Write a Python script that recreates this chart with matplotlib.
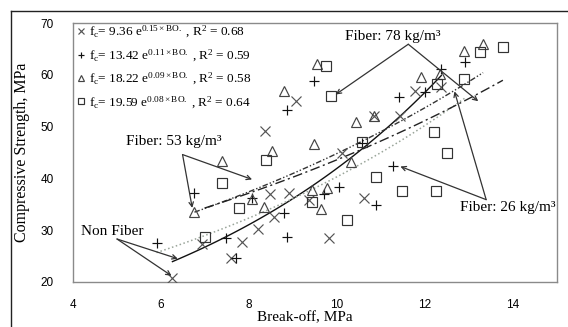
import numpy as np
import matplotlib
matplotlib.use("Agg")
import matplotlib.pyplot as plt
from matplotlib.lines import Line2D

plt.rcParams['font.family'] = ['Liberation Serif', 'DejaVu Serif']
plt.rcParams['mathtext.fontset'] = 'custom'
plt.rcParams['mathtext.rm'] = 'Liberation Serif'
plt.rcParams['mathtext.it'] = 'Liberation Serif:italic'

# break-off (x) and compressive strength (y) per fiber content
x_none = [6.26, 7.60, 7.85, 8.21, 8.57, 8.48, 8.91, 9.36, 6.94, 9.81, 10.61, 10.11,
          8.37, 9.07, 10.83, 11.44, 11.78, 12.37]
y_none = [20.8, 24.7, 27.8, 30.3, 32.6, 36.9, 37.2, 35.9, 27.4, 28.5, 36.3, 45.0,
          49.1, 54.9, 52.0, 52.0, 56.8, 57.6]

x_26 = [5.90, 6.76, 7.48, 7.71, 8.07, 8.80, 8.86, 8.86, 9.48, 9.70, 10.04, 10.56,
        10.88, 11.28, 11.40, 12.00, 12.37, 12.90]
y_26 = [27.6, 37.2, 28.5, 24.6, 36.3, 33.4, 28.7, 53.3, 58.8, 36.9, 38.4, 46.9,
        34.9, 42.3, 55.7, 56.6, 61.1, 62.4]

x_53 = [6.76, 7.39, 8.07, 8.34, 8.52, 8.80, 9.54, 10.43, 9.48, 9.43, 9.77, 9.63,
        10.31, 10.83, 11.92, 12.35, 12.89, 13.32]
y_53 = [33.6, 43.4, 36.1, 34.5, 45.2, 56.8, 62.0, 50.8, 46.6, 37.8, 38.2, 34.0,
        43.1, 52.0, 59.5, 60.1, 64.6, 65.9]

x_78 = [6.99, 7.39, 7.78, 8.39, 9.43, 10.22, 10.56, 9.75, 9.86, 12.28, 12.89, 13.25,
        13.77, 12.21, 12.51, 10.88, 11.47, 12.24]
y_78 = [28.7, 39.2, 34.3, 43.6, 35.5, 32.0, 47.1, 61.7, 55.9, 58.2, 59.1, 64.4,
        65.3, 48.9, 45.0, 40.3, 37.6, 37.6]

# exponential fits shown in the legend: fc = a * exp(b * BO)
fit_a = [9.36, 13.42, 18.22, 19.59]
fit_b = [0.15, 0.11, 0.09, 0.08]
fit_r2 = [0.68, 0.59, 0.58, 0.64]

series = [(x_none, y_none), (x_26, y_26), (x_53, y_53), (x_78, y_78)]
markers = ['x', '+', '^', 's']
mcolors = ['#555555', '#111111', '#444444', '#333333']
line_styles = ['-', ':', (0, (4, 1.5, 1, 1.5, 1, 1.5)), (0, (7, 2.5, 1.5, 2.5))]
line_colors = ['#111111', '#9aa59a', '#333333', '#222222']
line_widths = [1.0, 1.1, 1.0, 1.0]

fig = plt.figure(figsize=(5.68, 3.27), dpi=100)
ax = fig.add_axes([73 / 568, 1 - 282 / 327, 484 / 568, 259 / 327])

# outer frame of the figure
fig.add_artist(Line2D([11 / 568, 11 / 568], [0, 1 - 11 / 327], transform=fig.transFigure,
                      color='#222222', lw=1.0))
fig.add_artist(Line2D([11 / 568, 1], [1 - 11 / 327, 1 - 11 / 327], transform=fig.transFigure,
                      color='#222222', lw=1.0))

handles = []
for i, (xs, ys) in enumerate(series):
    xf = np.linspace(min(xs), max(xs), 100)
    ax.plot(xf, fit_a[i] * np.exp(fit_b[i] * xf), linestyle=line_styles[i],
            color=line_colors[i], lw=line_widths[i], zorder=2)
    h, = ax.plot(xs, ys, linestyle='none', marker=markers[i], ms=7.5 if i < 2 else 7,
                 mfc='none', mec=mcolors[i], mew=0.85, zorder=3)
    handles.append(h)

labels = []
for i in range(4):
    labels.append(r'f$_{\mathrm{c}}$= %.2f e$^{\mathrm{%.2f\times BO.}}$ , R$^{\mathrm{2}}$ = %.2f'
                  % (fit_a[i], fit_b[i], fit_r2[i]))
leg = ax.legend(handles, labels, loc='upper left', frameon=False, fontsize=9.5,
                markerscale=0.6, handlelength=0.6, handletextpad=0.3, labelspacing=0.55,
                borderaxespad=0.0, borderpad=0.3, bbox_to_anchor=(0.0, 1.01))

# annotations
arrow = dict(arrowstyle='->', color='#333333', lw=0.9, shrinkA=0, shrinkB=0,
             mutation_scale=8)
ax.text(11.27, 67.3, 'Fiber: 78 kg/m³', ha='center', va='center', fontsize=11)
for tip in [(9.97, 56.2), (13.21, 54.9)]:
    ax.annotate('', xy=tip, xytext=(11.62, 65.9), arrowprops=arrow)

ax.text(6.30, 47.2, 'Fiber: 53 kg/m³', ha='center', va='center', fontsize=11)
for tip in [(6.71, 34.3), (8.07, 39.8)]:
    ax.annotate('', xy=tip, xytext=(6.49, 44.6), arrowprops=arrow)

ax.text(4.90, 29.7, 'Non Fiber', ha='center', va='center', fontsize=11)
for tip in [(6.38, 24.5), (6.24, 21.2)]:
    ax.annotate('', xy=tip, xytext=(5.0, 28.3), arrowprops=arrow)

ax.text(13.88, 34.4, 'Fiber: 26 kg/m³', ha='center', va='center', fontsize=11)
for tip in [(11.44, 42.3), (12.67, 56.8)]:
    ax.annotate('', xy=tip, xytext=(13.39, 35.9), arrowprops=arrow)

ax.set_xlim(4, 15)
ax.set_ylim(20, 70)
ax.set_xticks([4, 6, 8, 10, 12, 14])
ax.set_yticks([20, 30, 40, 50, 60, 70])
ax.tick_params(length=0, labelsize=8.5)
ax.tick_params(axis='x', pad=12)
ax.tick_params(axis='y', pad=14)
for lab in ax.get_xticklabels() + ax.get_yticklabels():
    lab.set_family(['Liberation Sans', 'DejaVu Sans'])
for s in ax.spines.values():
    s.set_color('#8a8a8a')
    s.set_linewidth(1.0)

ax.set_xlabel('Break-off, MPa', fontsize=11)
ax.xaxis.set_label_coords(0.478, -0.112)
ax.set_ylabel('Compressive Strength, MPa', fontsize=11.5)
ax.yaxis.set_label_coords(-0.088, 0.5)

fig.savefig('out.png', dpi=100)
